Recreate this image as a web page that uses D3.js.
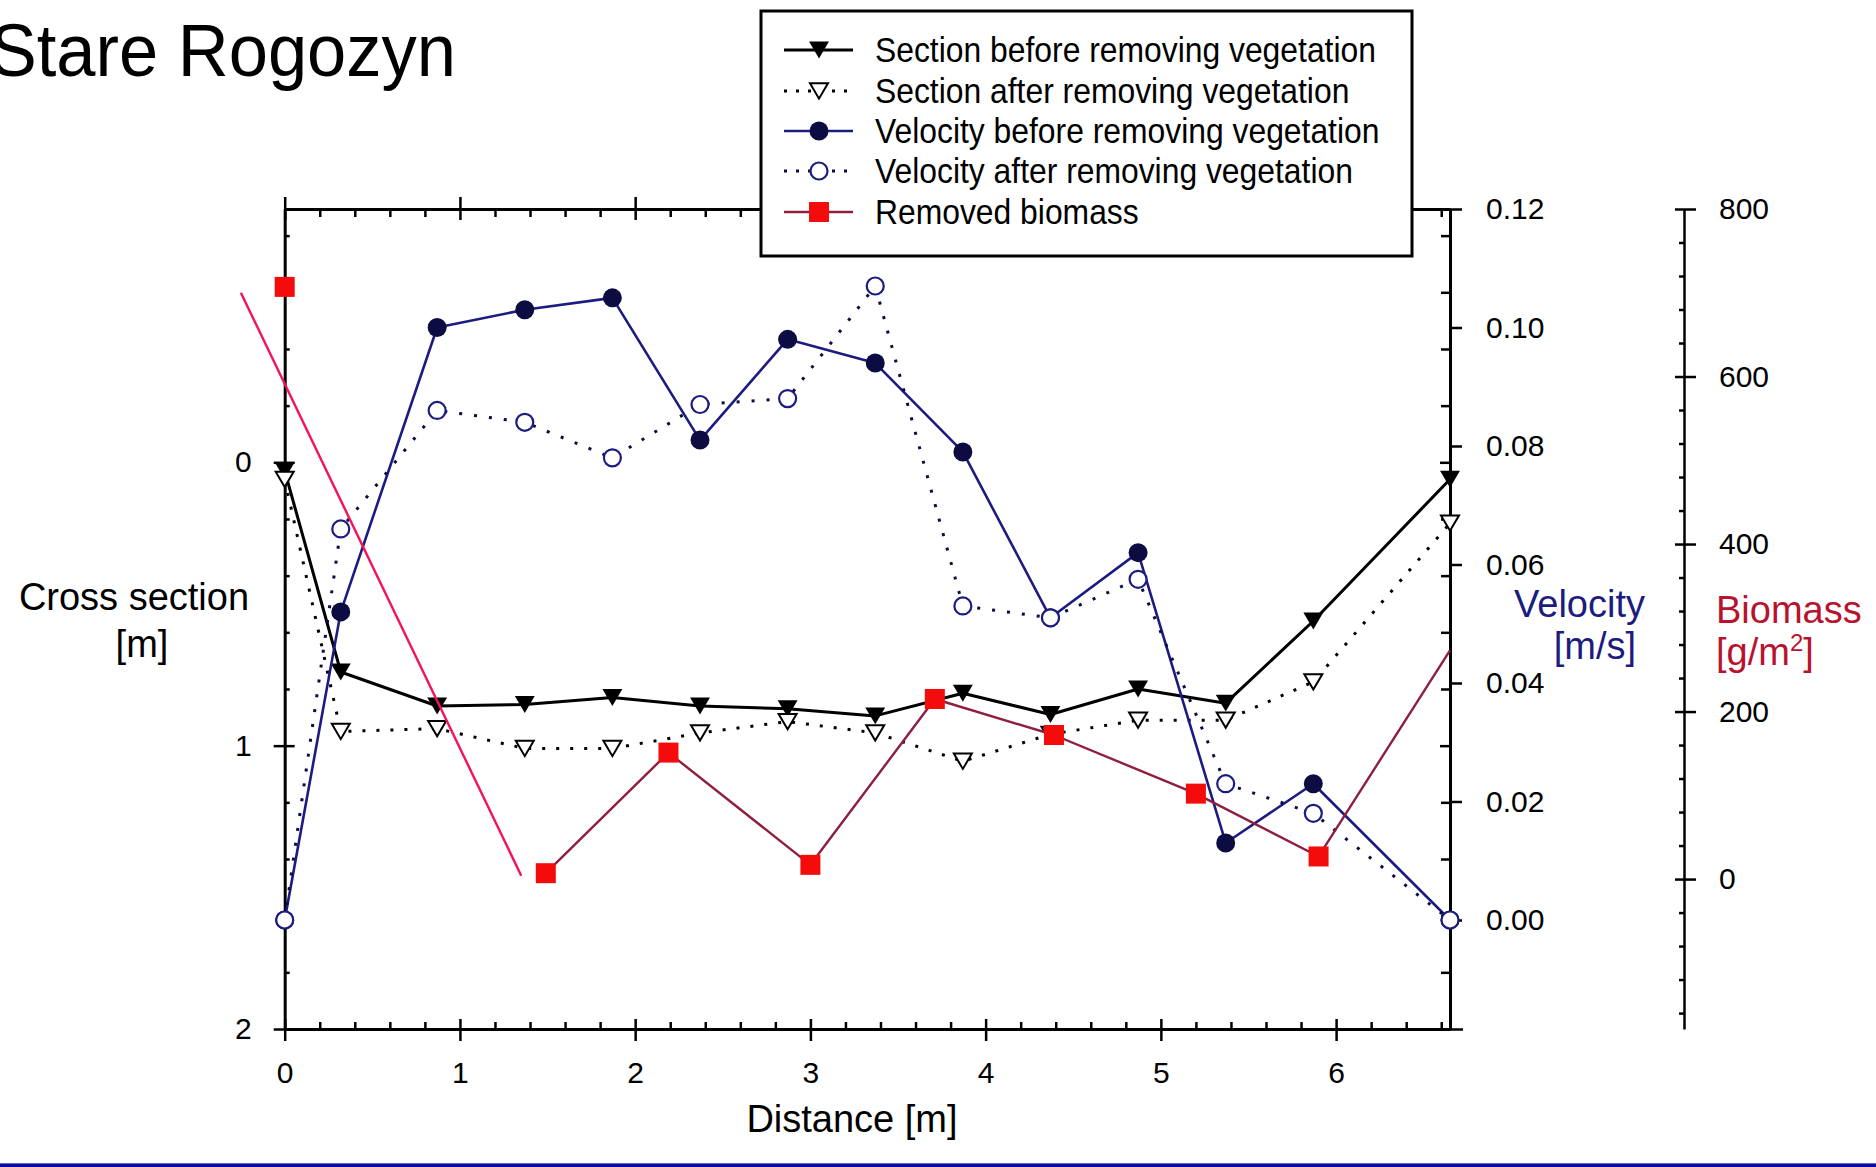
<!DOCTYPE html>
<html>
<head>
<meta charset="utf-8">
<script src="https://cdn.jsdelivr.net/npm/d3@7/dist/d3.min.js"></script>
<style>
  html, body { margin: 0; padding: 0; background: #fff; }
  svg { display: block; font-family: "Liberation Sans", Arial, Helvetica, sans-serif; }
</style>
</head>
<body>
<svg id="chart" width="1876" height="1167"></svg>
<script>
// Measuring stations across the channel (m)
const distance = [0, 0.32, 0.87, 1.37, 1.87, 2.37, 2.87, 3.37, 3.87, 4.37, 4.87, 5.37, 5.87, 6.65];

// Cross-section depth (m, positive downward)
const sectionBefore = [0.03, 0.74, 0.86, 0.855, 0.83, 0.86, 0.87, 0.895, 0.815, 0.89, 0.80, 0.85, 0.56, 0.06];
const sectionAfter  = [0.06, 0.95, 0.94, 1.01, 1.01, 0.955, 0.915, 0.955, 1.055, 0.96, 0.91, 0.91, 0.775, 0.215];

// Flow velocity (m/s)
const velocityBefore = [0, 0.052, 0.100, 0.103, 0.105, 0.081, 0.098, 0.094, 0.079, 0.051, 0.062, 0.013, 0.023, 0];
const velocityAfter  = [0, 0.066, 0.086, 0.084, 0.078, 0.087, 0.088, 0.107, 0.053, 0.051, 0.0575, 0.023, 0.018, 0];

// Removed biomass (g/m2) sampled at its own stations
const biomassDistance = [0, 1.49, 2.19, 3.0, 3.71, 4.39, 5.2, 5.9, 6.65];
const biomass = [707, 7, 151, 17, 215, 172, 102, 27, 273];

// Stray connector drawn in the original figure (distance, biomass)
const connectorDistance = [-0.25, 1.35];
const connectorBiomass = [700, 4];

// Tick labels
const distanceTicks = [0, 1, 2, 3, 4, 5, 6];
const sectionTicks = [0, 1, 2];
const velocityTicks = [0, 0.02, 0.04, 0.06, 0.08, 0.10, 0.12];
const biomassTicks = [0, 200, 400, 600, 800];

const legendLabels = [
  "Section before removing vegetation",
  "Section after removing vegetation",
  "Velocity before removing vegetation",
  "Velocity after removing vegetation",
  "Removed biomass"
];

// ---------- layout ----------
const plotLeft = 284.7, plotRight = 1450, plotTop = 209, plotBottom = 1029;
const bioAxisX = 1684;

const svg = d3.select("#chart");
svg.append("rect").attr("width", 1876).attr("height", 1167).attr("fill", "#fff");

const x = d3.scaleLinear().domain([0, 6.65]).range([plotLeft, plotRight]);
const yCs = d3.scaleLinear().domain([-0.894, 2]).range([plotTop, plotBottom]);
const yVel = d3.scaleLinear().domain([-0.0184, 0.12]).range([plotBottom, plotTop]);
const yBio = d3.scaleLinear().domain([-179, 800]).range([plotBottom, plotTop]);

const NAVY = "#1c1c80", NAVY_DARK = "#0c0c42", MAROON = "#8e1f3e", PINK = "#f3125c", RED = "#f40c0c";
const tickFont = 30, titleFont = 38;

function styleAxis(g, width) {
  g.select(".domain").attr("stroke", "#000").attr("stroke-width", width || 3);
  g.selectAll(".tick line").attr("stroke", "#000").attr("stroke-width", 2.5);
  g.selectAll(".tick text").attr("font-size", tickFont).attr("fill", "#000")
    .attr("font-family", '"Liberation Sans", Arial, sans-serif');
}

const minorX = d3.range(0.2, 6.65, 0.2).filter(v => Math.abs(v - Math.round(v)) > 1e-6);
const minorCs = d3.range(-0.8, 2.0, 0.2).filter(v => Math.abs(v - Math.round(v)) > 1e-6);
const minorBio = d3.range(-160, 800, 40).filter(v => v % 200 !== 0);

const axes = svg.append("g");

// bottom axis: labels + outward majors, inward majors and minors
axes.append("g").attr("transform", `translate(0,${plotBottom})`)
  .call(d3.axisBottom(x).tickValues(distanceTicks).tickSizeInner(12).tickSizeOuter(0).tickPadding(21).tickFormat(d3.format("d")))
  .call(g => styleAxis(g));
axes.append("g").attr("transform", `translate(0,${plotBottom})`)
  .call(d3.axisTop(x).tickValues(distanceTicks).tickSize(10).tickFormat(""))
  .call(g => { styleAxis(g); g.select(".domain").remove(); });
axes.append("g").attr("transform", `translate(0,${plotBottom})`)
  .call(d3.axisTop(x).tickValues(minorX).tickSize(7).tickFormat(""))
  .call(g => { styleAxis(g); g.select(".domain").remove(); });

// top frame mirrors the distance ticks
axes.append("g").attr("transform", `translate(0,${plotTop})`)
  .call(d3.axisTop(x).tickValues(distanceTicks).tickSizeInner(12).tickSizeOuter(0).tickFormat(""))
  .call(g => styleAxis(g));
axes.append("g").attr("transform", `translate(0,${plotTop})`)
  .call(d3.axisBottom(x).tickValues(distanceTicks).tickSize(11).tickFormat(""))
  .call(g => { styleAxis(g); g.select(".domain").remove(); });
axes.append("g").attr("transform", `translate(0,${plotTop})`)
  .call(d3.axisBottom(x).tickValues(minorX).tickSize(8).tickFormat(""))
  .call(g => { styleAxis(g); g.select(".domain").remove(); });

// left cross-section axis
axes.append("g").attr("transform", `translate(${plotLeft},0)`)
  .call(d3.axisLeft(yCs).tickValues(sectionTicks).tickSizeInner(11).tickSizeOuter(0).tickPadding(22).tickFormat(d3.format("d")))
  .call(g => styleAxis(g));
axes.append("g").attr("transform", `translate(${plotLeft},0)`)
  .call(d3.axisRight(yCs).tickValues(sectionTicks).tickSize(10).tickFormat(""))
  .call(g => { styleAxis(g); g.select(".domain").remove(); });
axes.append("g").attr("transform", `translate(${plotLeft},0)`)
  .call(d3.axisRight(yCs).tickValues(minorCs).tickSize(5).tickFormat(""))
  .call(g => { styleAxis(g); g.select(".domain").remove(); });

// right frame: mirrored cross-section ticks inward, velocity scale outward
axes.append("g").attr("transform", `translate(${plotRight},0)`)
  .call(d3.axisLeft(yCs).tickValues(sectionTicks).tickSize(10).tickSizeOuter(0).tickFormat(""))
  .call(g => styleAxis(g));
axes.append("g").attr("transform", `translate(${plotRight},0)`)
  .call(d3.axisLeft(yCs).tickValues(minorCs).tickSize(9).tickFormat(""))
  .call(g => { styleAxis(g); g.select(".domain").remove(); });
axes.append("g").attr("transform", `translate(${plotRight},0)`)
  .call(d3.axisRight(yCs).tickValues([2]).tickSize(13).tickFormat(""))
  .call(g => { styleAxis(g); g.select(".domain").remove(); });
axes.append("g").attr("transform", `translate(${plotRight},0)`)
  .call(d3.axisRight(yVel).tickValues(velocityTicks).tickSize(12).tickPadding(24).tickFormat(d3.format(".2f")))
  .call(g => { styleAxis(g); g.select(".domain").remove(); });

// separate biomass axis
axes.append("g").attr("transform", `translate(${bioAxisX},0)`)
  .call(d3.axisRight(yBio).tickValues(biomassTicks).tickSizeInner(12).tickSizeOuter(0).tickPadding(23).tickFormat(d3.format("d")))
  .call(g => styleAxis(g, 2.5));
axes.append("g").attr("transform", `translate(${bioAxisX},0)`)
  .call(d3.axisLeft(yBio).tickValues(biomassTicks).tickSize(9).tickFormat(""))
  .call(g => { styleAxis(g); g.select(".domain").remove(); });
axes.append("g").attr("transform", `translate(${bioAxisX},0)`)
  .call(d3.axisLeft(yBio).tickValues(minorBio).tickSize(5).tickFormat(""))
  .call(g => { styleAxis(g); g.select(".domain").remove(); });

// ---------- axis titles ----------
const titles = svg.append("g").attr("font-size", titleFont);
titles.append("text").attr("x", 134).attr("y", 610).attr("text-anchor", "middle").text("Cross section");
titles.append("text").attr("x", 142).attr("y", 657).attr("text-anchor", "middle").text("[m]");
titles.append("text").attr("x", 852).attr("y", 1132).attr("text-anchor", "middle").text("Distance [m]");
titles.append("text").attr("x", 1645).attr("y", 617).attr("text-anchor", "end").attr("fill", NAVY).text("Velocity");
titles.append("text").attr("x", 1636).attr("y", 659).attr("text-anchor", "end").attr("fill", NAVY).text("[m/s]");
titles.append("text").attr("x", 1716).attr("y", 623).attr("fill", "#b8132e").text("Biomass");
const gm = titles.append("text").attr("x", 1716).attr("y", 665).attr("fill", "#b8132e");
gm.append("tspan").text("[g/m");
gm.append("tspan").attr("font-size", 24).attr("dy", -14).text("2");
gm.append("tspan").attr("dy", 14).text("]");

// chart title
svg.append("text").attr("transform", "translate(456,76) scale(0.94,1)")
  .attr("text-anchor", "end").attr("font-size", 75).text("Stare Rogozyn");

// ---------- marker shapes ----------
const downTriangle = {
  draw(ctx, size) {
    const w = Math.sqrt(size * 1.2), h = w * 0.85;
    ctx.moveTo(-w / 2, -h / 2); ctx.lineTo(w / 2, -h / 2); ctx.lineTo(0, h / 2); ctx.closePath();
  }
};
const triFilled = d3.symbol().type(downTriangle).size(330);
const triOpen = d3.symbol().type(downTriangle).size(270);

const pts = (xs, ys) => xs.map((d, i) => ({ x: d, y: ys[i] }));

function series(data, yScale, opt) {
  const g = svg.append("g");
  const line = d3.line().x(d => x(d.x)).y(d => yScale(d.y));
  g.append("path").datum(data).attr("d", line).attr("fill", "none")
    .attr("stroke", opt.stroke).attr("stroke-width", opt.width)
    .attr("stroke-dasharray", opt.dash || null).attr("stroke-linejoin", "round");
  return g;
}

// section before
const sb = pts(distance, sectionBefore);
series(sb, yCs, { stroke: "#000", width: 3 }).selectAll("path.m").data(sb).join("path")
  .attr("transform", d => `translate(${x(d.x)},${yCs(d.y)})`).attr("d", triFilled).attr("fill", "#000");

// section after
const sa = pts(distance, sectionAfter);
series(sa, yCs, { stroke: "#000", width: 3, dash: "3 11" }).selectAll("path.m").data(sa).join("path")
  .attr("transform", d => `translate(${x(d.x)},${yCs(d.y)})`).attr("d", triOpen)
  .attr("fill", "#fff").attr("stroke", "#000").attr("stroke-width", 2);

// velocity before
const vb = pts(distance, velocityBefore);
series(vb, yVel, { stroke: NAVY, width: 2.6 }).selectAll("circle").data(vb).join("circle")
  .attr("cx", d => x(d.x)).attr("cy", d => yVel(d.y)).attr("r", 9.5).attr("fill", NAVY_DARK);

// velocity after
const va = pts(distance, velocityAfter);
series(va, yVel, { stroke: NAVY_DARK, width: 3, dash: "3 12" }).selectAll("circle").data(va).join("circle")
  .attr("cx", d => x(d.x)).attr("cy", d => yVel(d.y)).attr("r", 8.5)
  .attr("fill", "#fff").attr("stroke", NAVY).attr("stroke-width", 2.2);

// removed biomass: line runs from the second sample onward
const bm = pts(biomassDistance, biomass);
const bioG = series(bm.slice(1), yBio, { stroke: MAROON, width: 2.4 });
bioG.selectAll("rect").data(bm.filter(d => d.x < x.domain()[1])).join("rect")
  .attr("x", d => x(d.x) - 10).attr("y", d => yBio(d.y) - 10)
  .attr("width", 20).attr("height", 20).attr("fill", RED);

// stray connector
svg.append("path").datum(pts(connectorDistance, connectorBiomass))
  .attr("d", d3.line().x(d => x(d.x)).y(d => yBio(d.y)))
  .attr("fill", "none").attr("stroke", PINK).attr("stroke-width", 2.4);

// ---------- legend ----------
const lg = svg.append("g");
lg.append("rect").attr("x", 761).attr("y", 11).attr("width", 651).attr("height", 245)
  .attr("fill", "#fff").attr("stroke", "#000").attr("stroke-width", 3);
const rowY = [50, 91, 131, 171, 212];
const legendStyles = [
  { stroke: "#000", width: 3, dash: null, marker: "triF" },
  { stroke: "#000", width: 3, dash: "3 9", marker: "triO" },
  { stroke: NAVY, width: 2.6, dash: null, marker: "cirF" },
  { stroke: NAVY_DARK, width: 3, dash: "3 9", marker: "cirO" },
  { stroke: MAROON, width: 2.4, dash: null, marker: "sq" }
];
legendLabels.forEach((label, i) => {
  const s = legendStyles[i], cy = rowY[i], row = lg.append("g");
  row.append("line").attr("x1", 784).attr("x2", 853).attr("y1", cy).attr("y2", cy)
    .attr("stroke", s.stroke).attr("stroke-width", s.width).attr("stroke-dasharray", s.dash);
  if (s.marker === "triF") row.append("path").attr("transform", `translate(819,${cy})`).attr("d", triFilled).attr("fill", "#000");
  if (s.marker === "triO") row.append("path").attr("transform", `translate(819,${cy})`).attr("d", triOpen)
    .attr("fill", "#fff").attr("stroke", "#000").attr("stroke-width", 2);
  if (s.marker === "cirF") row.append("circle").attr("cx", 819).attr("cy", cy).attr("r", 9.5).attr("fill", NAVY_DARK);
  if (s.marker === "cirO") row.append("circle").attr("cx", 819).attr("cy", cy).attr("r", 8.5)
    .attr("fill", "#fff").attr("stroke", NAVY).attr("stroke-width", 2.2);
  if (s.marker === "sq") row.append("rect").attr("x", 809).attr("y", cy - 10).attr("width", 20).attr("height", 20).attr("fill", RED);
  row.append("text").attr("transform", `translate(875,${cy + 12}) scale(0.91,1)`)
    .attr("font-size", 35).text(label);
});

// footer rule
svg.append("rect").attr("x", 0).attr("y", 1163).attr("width", 1876).attr("height", 1).attr("fill", "#6a6ad8");
svg.append("rect").attr("x", 0).attr("y", 1164).attr("width", 1876).attr("height", 3).attr("fill", "#0a0a9c");
</script>
</body>
</html>
